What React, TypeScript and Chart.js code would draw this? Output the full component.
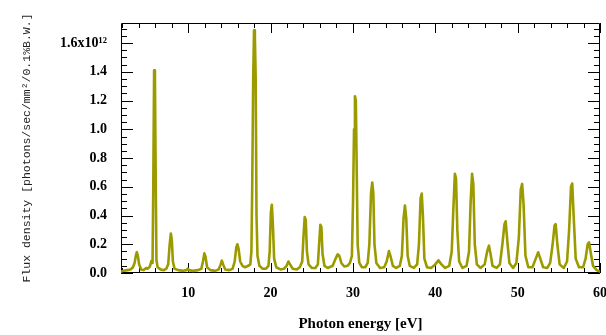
import React, { useEffect, useRef } from 'react';
import { Chart, registerables } from 'chart.js';

Chart.register(...registerables);

// Photon energy (eV) sample points
const energyEV = [
  1.85, 2.2, 2.6, 3.0, 3.3, 3.5, 3.65, 3.77, 3.9, 4.05, 4.3, 4.6, 4.9, 5.1, 5.35, 5.55, 5.68, 5.76, 5.87, 5.97,
  6.06, 6.15, 6.3, 6.65, 7.05, 7.35, 7.58, 7.76, 7.9, 8.02, 8.15, 8.35, 8.8, 9.4, 9.8, 9.95, 10.1, 10.6, 11.2, 11.6,
  11.8, 11.97, 12.12, 12.3, 12.7, 13.3, 13.7, 13.95, 14.09, 14.25, 14.5, 15.0, 15.4, 15.65, 15.85, 15.98, 16.12, 16.32, 16.6, 16.9,
  17.3, 17.55, 17.68, 17.78, 17.9, 18.0, 18.1, 18.2, 18.3, 18.42, 18.65, 19.05, 19.45, 19.75, 19.9, 20.04, 20.16, 20.28, 20.44, 20.7,
  21.2, 21.65, 21.95, 22.17, 22.37, 22.7, 23.2, 23.55, 23.85, 24.0, 24.15, 24.28, 24.42, 24.62, 25.0, 25.45, 25.75, 25.9, 26.05, 26.18,
  26.32, 26.55, 26.95, 27.55, 27.9, 28.15, 28.35, 28.6, 28.95, 29.35, 29.65, 29.88, 30.02, 30.14, 30.25, 30.36, 30.47, 30.58, 30.78, 31.1,
  31.5, 31.8, 32.0, 32.2, 32.35, 32.48, 32.62, 32.85, 33.3, 33.8, 34.1, 34.38, 34.6, 34.85, 35.25, 35.7, 35.95, 36.15, 36.32, 36.48,
  36.65, 36.9, 37.4, 37.8, 38.02, 38.22, 38.36, 38.5, 38.68, 39.0, 39.5, 40.0, 40.38, 40.75, 41.2, 41.7, 42.0, 42.2, 42.38, 42.52,
  42.68, 42.9, 43.3, 43.8, 44.1, 44.3, 44.47, 44.62, 44.8, 45.05, 45.5, 46.0, 46.3, 46.52, 46.72, 46.95, 47.45, 47.85, 48.15, 48.4,
  48.55, 48.75, 49.0, 49.45, 49.85, 50.15, 50.38, 50.55, 50.72, 50.95, 51.3, 51.8, 52.2, 52.5, 52.75, 53.1, 53.6, 53.95, 54.25, 54.48,
  54.62, 54.82, 55.1, 55.6, 56.0, 56.25, 56.48, 56.63, 56.8, 57.05, 57.45, 57.95, 58.25, 58.5, 58.67, 58.85, 59.15, 59.6, 60.0,
];

// Flux density in units of 10^12 photons/sec/mm^2/0.1%B.W.
const fluxE12 = [
  0.010, 0.015, 0.020, 0.025, 0.040, 0.070, 0.120, 0.145, 0.120, 0.060, 0.025, 0.020, 0.035, 0.030, 0.045, 0.085, 0.070, 0.550, 1.410, 1.360,
  0.700, 0.090, 0.040, 0.025, 0.020, 0.030, 0.060, 0.200, 0.275, 0.230, 0.080, 0.030, 0.020, 0.015, 0.020, 0.030, 0.020, 0.015, 0.020, 0.030,
  0.080, 0.137, 0.110, 0.040, 0.020, 0.015, 0.025, 0.060, 0.086, 0.060, 0.025, 0.020, 0.030, 0.080, 0.180, 0.200, 0.170, 0.080, 0.050, 0.040,
  0.050, 0.060, 0.150, 0.600, 1.360, 1.690, 1.650, 1.360, 0.400, 0.120, 0.050, 0.030, 0.030, 0.050, 0.150, 0.420, 0.475, 0.350, 0.100, 0.040,
  0.025, 0.030, 0.050, 0.080, 0.060, 0.030, 0.025, 0.040, 0.080, 0.250, 0.390, 0.370, 0.150, 0.060, 0.035, 0.035, 0.060, 0.200, 0.335, 0.320,
  0.130, 0.050, 0.035, 0.050, 0.100, 0.130, 0.120, 0.070, 0.045, 0.050, 0.070, 0.120, 0.500, 1.000, 1.230, 1.200, 0.700, 0.200, 0.070, 0.040,
  0.040, 0.070, 0.200, 0.550, 0.630, 0.560, 0.200, 0.070, 0.035, 0.040, 0.080, 0.153, 0.110, 0.050, 0.035, 0.050, 0.120, 0.380, 0.470, 0.380,
  0.120, 0.050, 0.035, 0.060, 0.200, 0.520, 0.553, 0.400, 0.100, 0.040, 0.035, 0.060, 0.088, 0.060, 0.035, 0.050, 0.150, 0.450, 0.690, 0.660,
  0.300, 0.080, 0.035, 0.050, 0.150, 0.500, 0.690, 0.620, 0.200, 0.060, 0.035, 0.060, 0.150, 0.190, 0.130, 0.050, 0.035, 0.060, 0.200, 0.340,
  0.360, 0.220, 0.070, 0.035, 0.070, 0.250, 0.580, 0.620, 0.480, 0.120, 0.040, 0.040, 0.100, 0.144, 0.100, 0.040, 0.035, 0.070, 0.200, 0.330,
  0.340, 0.200, 0.060, 0.035, 0.080, 0.300, 0.600, 0.623, 0.400, 0.100, 0.040, 0.040, 0.100, 0.200, 0.213, 0.150, 0.050, 0.020, 0.010,
];

const xTickValues = [10, 20, 30, 40, 50, 60];
const xTickLabels = ['10', '20', '30', '40', '50', '60'];
const yTickValues = [0, 0.2, 0.4, 0.6, 0.8, 1.0, 1.2, 1.4, 1.6];
const yTickLabels = ['0.0', '0.2', '0.4', '0.6', '0.8', '1.0', '1.2', '1.4', '1.6x10\u00B9\u00B2'];

const X_MIN = 1.85;
const X_MAX = 60;
const Y_MIN = 0;
const Y_MAX = 1.74;
const X_MINOR_STEP = 2;
const Y_MINOR_STEP = 0.05;

const LINE_COLOR = '#9b9b00';
const TICK_FONT = { family: '"Liberation Serif", "Times New Roman", serif', size: 14, weight: 'bold' as const };

const frameTicksPlugin = {
  id: 'frameTicks',
  beforeDatasetsDraw(chart: any) {
    const { ctx, chartArea, scales } = chart;
    const { left, right, top, bottom } = chartArea;
    const xs = scales.x;
    const ys = scales.y;
    ctx.save();
    ctx.strokeStyle = '#000';
    ctx.lineWidth = 1;
    ctx.beginPath();
    // frame
    ctx.rect(Math.round(left) + 0.5, Math.round(top) + 0.5, Math.round(right - left) - 1, Math.round(bottom - top) - 1);
    // x ticks (bottom & top, pointing inward)
    const xStart = Math.ceil(X_MIN / X_MINOR_STEP) * X_MINOR_STEP;
    for (let v = xStart; v <= X_MAX + 1e-9; v += X_MINOR_STEP) {
      const val = Math.round(v * 1000) / 1000;
      const major = xTickValues.includes(val);
      const len = major ? 10 : 5;
      const px = Math.round(xs.getPixelForValue(val)) + 0.5;
      ctx.moveTo(px, bottom);
      ctx.lineTo(px, bottom - len);
      ctx.moveTo(px, top);
      ctx.lineTo(px, top + len);
    }
    // y ticks (left & right, pointing inward)
    for (let v = Y_MIN; v <= Y_MAX + 1e-9; v += Y_MINOR_STEP) {
      const val = Math.round(v * 1000) / 1000;
      const major = yTickValues.some((t) => Math.abs(t - val) < 1e-6);
      const len = major ? 12 : 6;
      const py = Math.round(ys.getPixelForValue(val)) + 0.5;
      ctx.moveTo(left, py);
      ctx.lineTo(left + len, py);
      ctx.moveTo(right, py);
      ctx.lineTo(right - len, py);
    }
    ctx.stroke();
    ctx.restore();
  },
};

export default function App() {
  const canvasRef = useRef<HTMLCanvasElement | null>(null);

  useEffect(() => {
    if (!canvasRef.current) return;
    const chart = new Chart(canvasRef.current, {
      type: 'line',
      data: {
        datasets: [
          {
            data: energyEV.map((x, i) => ({ x, y: fluxE12[i] })),
            borderColor: LINE_COLOR,
            borderWidth: 2.6,
            borderJoinStyle: 'round',
            pointRadius: 0,
            tension: 0,
            fill: false,
          },
        ],
      },
      options: {
        animation: false,
        responsive: false,
        events: [],
        layout: { padding: { left: 0, right: 6, top: 23, bottom: 0 } },
        plugins: { legend: { display: false }, tooltip: { enabled: false } },
        scales: {
          x: {
            type: 'linear',
            min: X_MIN,
            max: X_MAX,
            grid: { display: false },
            border: { display: false },
            afterBuildTicks: (s: any) => {
              s.ticks = xTickValues.map((v) => ({ value: v }));
            },
            afterFit: (s: any) => {
              s.height = 62;
              s.paddingLeft = 0;
              s.paddingRight = 0;
            },
            ticks: {
              autoSkip: false,
              maxRotation: 0,
              padding: 4,
              color: '#000',
              font: TICK_FONT,
              callback: (v: any) => xTickLabels[xTickValues.indexOf(Number(v))] ?? '',
            },
            title: {
              display: true,
              text: 'Photon energy [eV]',
              color: '#000',
              font: { family: '"Liberation Serif", "Times New Roman", serif', size: 15, weight: 'bold' },
              padding: { top: 0, bottom: 2 },
            },
          },
          y: {
            type: 'linear',
            min: Y_MIN,
            max: Y_MAX,
            grid: { display: false },
            border: { display: false },
            afterBuildTicks: (s: any) => {
              s.ticks = yTickValues.map((v) => ({ value: v }));
            },
            afterFit: (s: any) => {
              s.width = 121;
              s.paddingTop = 0;
              s.paddingBottom = 0;
            },
            ticks: {
              autoSkip: false,
              padding: 6,
              color: '#000',
              font: TICK_FONT,
              callback: (v: any) => {
                const idx = yTickValues.findIndex((t) => Math.abs(t - Number(v)) < 1e-6);
                return idx >= 0 ? yTickLabels[idx] : '';
              },
            },
            title: {
              display: true,
              text: 'Flux density [photons/sec/mm\u00B2/0.1%B.W.]',
              color: '#222',
              font: { family: '"Liberation Mono", "Courier New", monospace', size: 11.5 },
              padding: { top: 20, bottom: 0 },
            },
          },
        },
      },
      plugins: [frameTicksPlugin],
    });
    return () => chart.destroy();
  }, []);

  return (
    <div style={{ position: 'absolute', left: 0, top: 0, width: 606, height: 335, background: '#fff' }}>
      <canvas ref={canvasRef} width={606} height={335} style={{ display: 'block' }} />
    </div>
  );
}
